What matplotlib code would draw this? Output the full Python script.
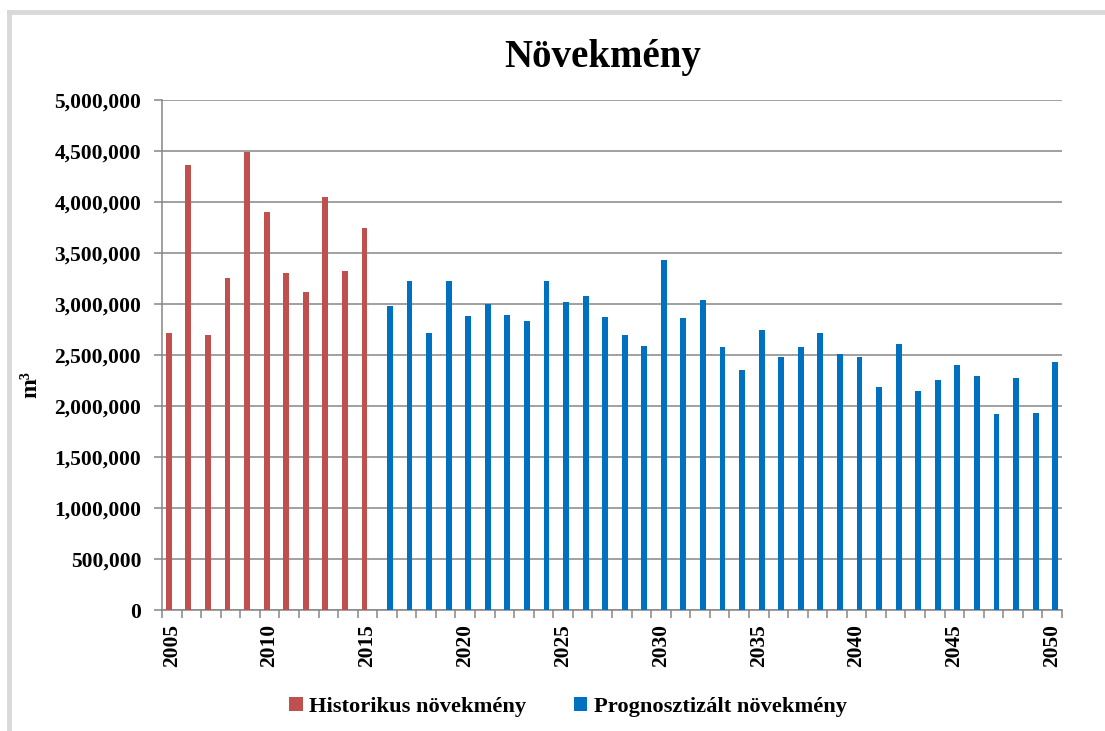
import numpy as np
import matplotlib
matplotlib.use("Agg")
import matplotlib.pyplot as plt
from matplotlib.ticker import FuncFormatter, FixedLocator
from matplotlib.lines import Line2D

# adatok
hist_years = list(range(2005, 2016))
hist_values = [2716000, 4360000, 2695000, 3255000, 4495000, 3900000,
               3300000, 3120000, 4047000, 3325000, 3750000]

prog_years = list(range(2016, 2051))
prog_values = [2978000, 3229000, 2714000, 3229000, 2883000, 3000000,
               2890000, 2834000, 3222000, 3017000, 3079000, 2873000,
               2697000, 2590000, 3434000, 2860000, 3043000, 2577000,
               2357000, 2749000, 2481000, 2576000, 2720000, 2507000,
               2481000, 2184000, 2612000, 2151000, 2256000, 2400000,
               2292000, 1923000, 2279000, 1936000, 2429000]

all_years = hist_years + prog_years
label_years = [2005, 2010, 2015, 2020, 2025, 2030, 2035, 2040, 2045, 2050]

red = '#C0504D'
blue = '#0070C0'
grid_c = '#868686'

plt.rcParams['font.family'] = ['Liberation Serif', 'DejaVu Serif']
plt.rcParams['font.weight'] = 'bold'

fig = plt.figure(figsize=(11.05, 7.31), dpi=100)
ax = fig.add_axes([162 / 1105, 1 - 610 / 731, 900 / 1105, 510 / 731])

idx = {y: i for i, y in enumerate(all_years)}
w = 0.3
hx = np.array([idx[y] for y in hist_years])
px = np.array([idx[y] for y in prog_years])
ax.bar(hx - w / 2, hist_values, width=w, color=red, zorder=3,
       label='Historikus növekmény')
ax.bar(px + w / 2, prog_values, width=w, color=blue, zorder=3,
       label='Prognosztizált növekmény')

ax.set_xlim(-0.5, len(all_years) - 0.5)
ax.set_ylim(0, 5000000)
ax.set_yticks(np.arange(0, 5000001, 500000))
ax.yaxis.set_major_formatter(FuncFormatter(lambda v, p: f'{int(v):,}'))
ax.grid(axis='y', color=grid_c, linewidth=1.1, zorder=0)

# évszám feliratok a kategóriák közepén, osztások a határokon
ax.xaxis.set_major_locator(FixedLocator([idx[y] for y in label_years]))
ax.set_xticklabels([str(y) for y in label_years], rotation=90)
ax.xaxis.set_minor_locator(FixedLocator(np.arange(-0.5, len(all_years), 1.0)))
ax.tick_params(axis='x', which='major', length=0, pad=10, labelsize=15.5)
ax.tick_params(axis='x', which='minor', length=6, color=grid_c, width=1.1)
ax.tick_params(axis='y', length=6, color=grid_c, width=1.1, pad=9,
               labelsize=15.5)

for s in ['top', 'right']:
    ax.spines[s].set_visible(False)
for s in ['left', 'bottom']:
    ax.spines[s].set_color(grid_c)
    ax.spines[s].set_linewidth(1.1)

fig.text(31 / 1105, 1 - 385 / 731, 'm³', rotation=90, ha='center',
         va='center', fontsize=17, fontweight='bold')
fig.text(603 / 1105, 1 - 57 / 731, 'Növekmény', ha='center', va='center',
         fontsize=28, fontweight='bold')

fig.legend(loc='center', bbox_to_anchor=(568 / 1105, 1 - 707 / 731), ncol=2,
           frameon=False, fontsize=16.2, handlelength=0.6, handleheight=0.6,
           handletextpad=0.3, columnspacing=2.1)

# keret (halványszürke)
fig.add_artist(Line2D([9 / 1105, 9 / 1105], [0, 1 - 12 / 731],
                      color='#d9d9d9', linewidth=3.5))
fig.add_artist(Line2D([9 / 1105, 1], [1 - 12 / 731, 1 - 12 / 731],
                      color='#d9d9d9', linewidth=3.5))

fig.savefig('out.png', dpi=100)
